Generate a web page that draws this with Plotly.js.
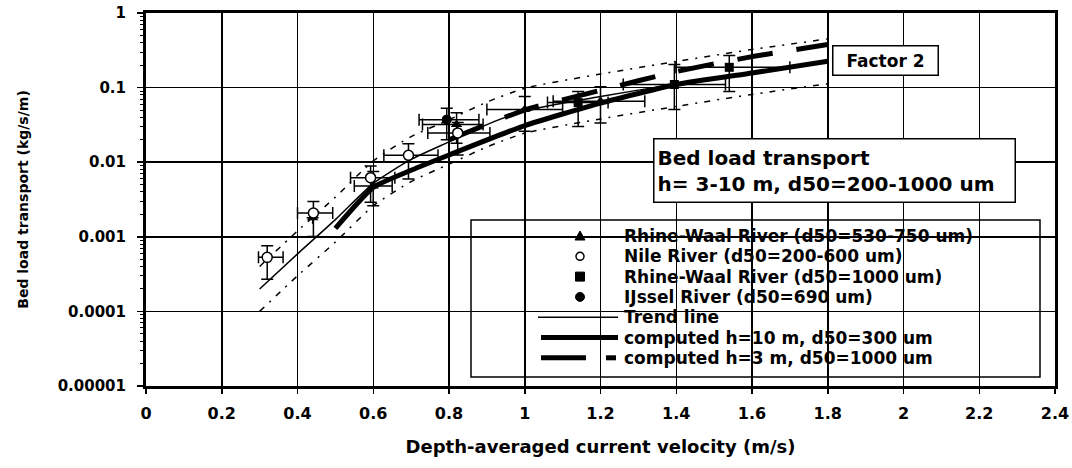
<!DOCTYPE html>
<html>
<head>
<meta charset="utf-8">
<script src="https://cdn.plot.ly/plotly-3.0.1.min.js"></script>
<style>html,body{margin:0;padding:0;background:#fff;}#chart{width:1072px;height:468px;}</style>
</head>
<body>
<div id="chart"></div>
<script>
// ---------------- data ----------------
// Rhine-Waal River (d50=530-750 um) : triangles
var rwTriX    = [0.44, 0.60, 0.82, 1.00, 1.20];
var rwTriY    = [0.0018, 0.0048, 0.032, 0.0507, 0.0655];
var rwTriYHi  = [0.0018, 0.0075, 0.046, 0.076, 0.1025];
var rwTriYLo  = [0.0018, 0.0026, 0.018, 0.026, 0.0336];
var rwTriXLo  = [0.44, 0.55, 0.73, 0.90, 1.075];
var rwTriXHi  = [0.44, 0.65, 0.89, 1.10, 1.317];

// Nile River (d50=200-600 um) : open circles
var nileX     = [0.32, 0.442, 0.593, 0.693, 0.823];
var nileY     = [0.00053, 0.00208, 0.0062, 0.01235, 0.0247];
var nileYHi   = [0.00076, 0.00298, 0.0089, 0.0177, 0.034];
var nileYLo   = [0.00027, 0.00101, 0.0029, 0.00594, 0.0125];
var nileXLo   = [0.297, 0.400, 0.540, 0.628, 0.744];
var nileXHi   = [0.362, 0.493, 0.657, 0.771, 0.908];

// Rhine-Waal River (d50=1000 um) : squares
var rwSqX     = [1.141, 1.395, 1.54];
var rwSqY     = [0.063, 0.110, 0.187];
var rwSqYHi   = [0.089, 0.204, 0.269];
var rwSqYLo   = [0.030, 0.051, 0.089];
var rwSqXLo   = [1.06, 1.26, 1.397];
var rwSqXHi   = [1.22, 1.53, 1.70];

// IJssel River (d50=690 um) : filled circle
var ijX       = [0.794];
var ijY       = [0.0372];
var ijYHi     = [0.053];
var ijYLo     = [0.020];
var ijXLo     = [0.721];
var ijXHi     = [0.879];

// Trend line and factor-2 band
var trendX    = [0.3, 0.4, 0.5, 0.6, 0.7, 0.8, 0.9, 1.0, 1.2, 1.4, 1.6, 1.8];
var trendY    = [0.0002, 0.00059, 0.0017, 0.0052, 0.0109, 0.0187, 0.0319, 0.049, 0.076, 0.112, 0.162, 0.224];
var upperY    = [0.0004, 0.0012, 0.0034, 0.0104, 0.022, 0.037, 0.064, 0.098, 0.152, 0.224, 0.324, 0.45];
var lowerY    = [0.0001, 0.0003, 0.00085, 0.0026, 0.0055, 0.0094, 0.016, 0.0245, 0.038, 0.056, 0.081, 0.1125];

// computed h=10 m, d50=300 um
var comp10X   = [0.5, 0.6, 0.7, 0.8, 1.0, 1.2, 1.4, 1.6, 1.8];
var comp10Y   = [0.0013, 0.0046, 0.0078, 0.0125, 0.031, 0.062, 0.11, 0.157, 0.225];
// computed h=3 m, d50=1000 um
var comp3X    = [0.8, 1.0, 1.2, 1.4, 1.6, 1.8];
var comp3Y    = [0.02, 0.05, 0.092, 0.164, 0.26, 0.378];

var yTickVals = [1, 0.1, 0.01, 0.001, 0.0001, 0.00001];
var yTickText = ['1', '0.1', '0.01', '0.001', '0.0001', '0.00001'];
var xTickVals = [0, 0.2, 0.4, 0.6, 0.8, 1, 1.2, 1.4, 1.6, 1.8, 2, 2.2, 2.4];
var xTickText = ['0', '0.2', '0.4', '0.6', '0.8', '1', '1.2', '1.4', '1.6', '1.8', '2', '2.2', '2.4'];

var legendNames = [
  'Rhine-Waal River (d50=530-750 um)',
  'Nile River (d50=200-600 um)',
  'Rhine-Waal River (d50=1000 um)',
  'IJssel River (d50=690 um)',
  'Trend line',
  'computed h=10 m, d50=300 um',
  'computed h=3 m, d50=1000 um'
];

// ---------------- helpers ----------------
function diff(a, b) { return a.map(function (v, i) { return Math.max(v - b[i], 0); }); }
function diffR(a, b) { return a.map(function (v, i) { return Math.max(b[i] - v, 0); }); }

var FONT = 'DejaVu Sans, Liberation Sans, Arial, sans-serif';
var bold = function (s, c) { return {family: FONT, size: s, color: c || '#000', weight: 'bold'}; };

function errPoints(name, x, y, yHi, yLo, xLo, xHi, marker) {
  return {
    type: 'scatter', mode: 'markers', name: name, x: x, y: y, showlegend: false,
    marker: marker,
    error_y: {type: 'data', symmetric: false, array: diff(yHi, y), arrayminus: diffR(yLo, y),
              color: '#000', thickness: 1.5, width: 6},
    error_x: {type: 'data', symmetric: false, array: diff(xHi, x), arrayminus: diffR(xLo, x),
              color: '#000', thickness: 1.5, width: 6},
    cliponaxis: false
  };
}

var traces = [
  {type: 'scatter', mode: 'lines', name: 'upper', x: trendX, y: upperY, showlegend: false,
   line: {color: '#000', width: 1.5, dash: '6px,7px,2px,7px', shape: 'spline', smoothing: 0.6}},
  {type: 'scatter', mode: 'lines', name: 'lower', x: trendX, y: lowerY, showlegend: false,
   line: {color: '#000', width: 1.5, dash: '6px,7px,2px,7px', shape: 'spline', smoothing: 0.6}},
  {type: 'scatter', mode: 'lines', name: legendNames[4], x: trendX, y: trendY, showlegend: false,
   line: {color: '#000', width: 1.5, shape: 'spline', smoothing: 0.6}},
  {type: 'scatter', mode: 'lines', name: legendNames[5], x: comp10X, y: comp10Y, showlegend: false,
   line: {color: '#000', width: 5, shape: 'spline', smoothing: 0.5}},
  {type: 'scatter', mode: 'lines', name: legendNames[6], x: comp3X, y: comp3Y, showlegend: false,
   line: {color: '#000', width: 5, dash: '36px,24px', shape: 'spline', smoothing: 0.6}},
  errPoints(legendNames[0], rwTriX, rwTriY, rwTriYHi, rwTriYLo, rwTriXLo, rwTriXHi,
            {symbol: 'triangle-up', size: 10, color: '#000'}),
  errPoints(legendNames[2], rwSqX, rwSqY, rwSqYHi, rwSqYLo, rwSqXLo, rwSqXHi,
            {symbol: 'square', size: 9, color: '#000'}),
  errPoints(legendNames[3], ijX, ijY, ijYHi, ijYLo, ijXLo, ijXHi,
            {symbol: 'circle', size: 10, color: '#000'}),
  errPoints(legendNames[1], nileX, nileY, nileYHi, nileYLo, nileXLo, nileXHi,
            {symbol: 'circle', size: 10, color: '#fff', line: {color: '#000', width: 1.5}})
];

// ---------------- layout (legend box drawn as shapes + text) ----------------
var L = 146, R = 1055, T = 13, B = 386;
function px(x) { return (x - L) / (R - L); }
function py(y) { return (B - y) / (B - T); }

var rowY = [236, 256.3, 276.6, 296.9, 317.2, 337.5, 357.8];
var symX = 580, textX = 622;

var shapes = [
  {type: 'rect', xref: 'paper', yref: 'paper', x0: px(471), x1: px(1040), y0: py(377), y1: py(220),
   fillcolor: '#fff', line: {color: '#000', width: 1.5}, layer: 'between'},
  // legend symbols
  {type: 'path', xref: 'paper', yref: 'paper', xsizemode: 'pixel', ysizemode: 'pixel',
   xanchor: px(symX), yanchor: py(rowY[0]), path: 'M -5,-4 L 5,-4 L 0,5 Z',
   fillcolor: '#000', line: {color: '#000', width: 1}},
  {type: 'circle', xref: 'paper', yref: 'paper', xsizemode: 'pixel', ysizemode: 'pixel',
   xanchor: px(symX), yanchor: py(rowY[1]), x0: -4, x1: 4, y0: -4, y1: 4,
   fillcolor: '#fff', line: {color: '#000', width: 1.5}},
  {type: 'rect', xref: 'paper', yref: 'paper', xsizemode: 'pixel', ysizemode: 'pixel',
   xanchor: px(symX), yanchor: py(rowY[2]), x0: -4.5, x1: 4.5, y0: -4.5, y1: 4.5,
   fillcolor: '#000', line: {color: '#000', width: 1}},
  {type: 'circle', xref: 'paper', yref: 'paper', xsizemode: 'pixel', ysizemode: 'pixel',
   xanchor: px(symX), yanchor: py(rowY[3]), x0: -4.5, x1: 4.5, y0: -4.5, y1: 4.5,
   fillcolor: '#000', line: {color: '#000', width: 1}},
  {type: 'line', xref: 'paper', yref: 'paper', x0: px(538), x1: px(618), y0: py(rowY[4]), y1: py(rowY[4]),
   line: {color: '#000', width: 1.5}},
  {type: 'line', xref: 'paper', yref: 'paper', x0: px(541), x1: px(618), y0: py(rowY[5]), y1: py(rowY[5]),
   line: {color: '#000', width: 5}},
  {type: 'line', xref: 'paper', yref: 'paper', x0: px(541), x1: px(586), y0: py(rowY[6]), y1: py(rowY[6]),
   line: {color: '#000', width: 5}},
  {type: 'line', xref: 'paper', yref: 'paper', x0: px(606), x1: px(616), y0: py(rowY[6]), y1: py(rowY[6]),
   line: {color: '#000', width: 5}}
];

var annotations = legendNames.map(function (t, i) {
  return {xref: 'paper', yref: 'paper', x: px(textX), y: py(rowY[i]), xanchor: 'left', yanchor: 'middle',
          text: t, showarrow: false, font: bold(17)};
});
annotations.push({xref: 'paper', yref: 'paper', x: px(885), y: py(61), xanchor: 'center', yanchor: 'middle',
  text: 'Factor 2', showarrow: false, font: bold(17), bgcolor: '#fff', bordercolor: '#000',
  borderwidth: 1.5, borderpad: 4, width: 96, height: 20});
annotations.push({xref: 'paper', yref: 'paper', x: px(834), y: py(170.5), xanchor: 'center', yanchor: 'middle',
  text: 'Bed load transport<br>h= 3-10 m, d50=200-1000 um', align: 'left', showarrow: false,
  font: bold(20), bgcolor: '#fff', bordercolor: '#000', borderwidth: 1.5, borderpad: 3,
  width: 354, height: 56});

var layout = {
  width: 1072, height: 468,
  margin: {l: L, r: 1072 - R, t: T, b: 468 - B, pad: 0},
  paper_bgcolor: '#fff', plot_bgcolor: '#fff',
  showlegend: false,
  xaxis: {
    range: [0, 2.4], tickvals: xTickVals, ticktext: xTickText,
    showgrid: true, gridcolor: '#000', gridwidth: 1.5, zeroline: false,
    showline: true, linecolor: '#000', linewidth: 3, mirror: true,
    ticks: 'outside', ticklen: 5, tickwidth: 1.5, tickcolor: '#000',
    ticklabelstandoff: 6,
    tickfont: bold(16),
    title: {text: 'Depth-averaged current velocity (m/s)', font: bold(18), standoff: 19},
    automargin: false
  },
  yaxis: {
    type: 'log', range: [-5, 0], tickvals: yTickVals, ticktext: yTickText,
    showgrid: true, gridcolor: '#000', gridwidth: 1.5, zeroline: false,
    showline: true, linecolor: '#000', linewidth: 3, mirror: true,
    ticks: 'outside', ticklen: 6, tickwidth: 1.5, tickcolor: '#000',
    minor: {tickmode: 'linear', dtick: 'D1', ticks: 'outside', ticklen: 3, tickwidth: 1, tickcolor: '#000', showgrid: false},
    ticklabelstandoff: 8,
    tickfont: bold(15),
    title: {text: 'Bed load transport (kg/s/m)', font: bold(14), standoff: 26},
    automargin: false
  },
  shapes: shapes,
  annotations: annotations
};

Plotly.newPlot('chart', traces, layout, {displayModeBar: false, staticPlot: true});
</script>
</body>
</html>
